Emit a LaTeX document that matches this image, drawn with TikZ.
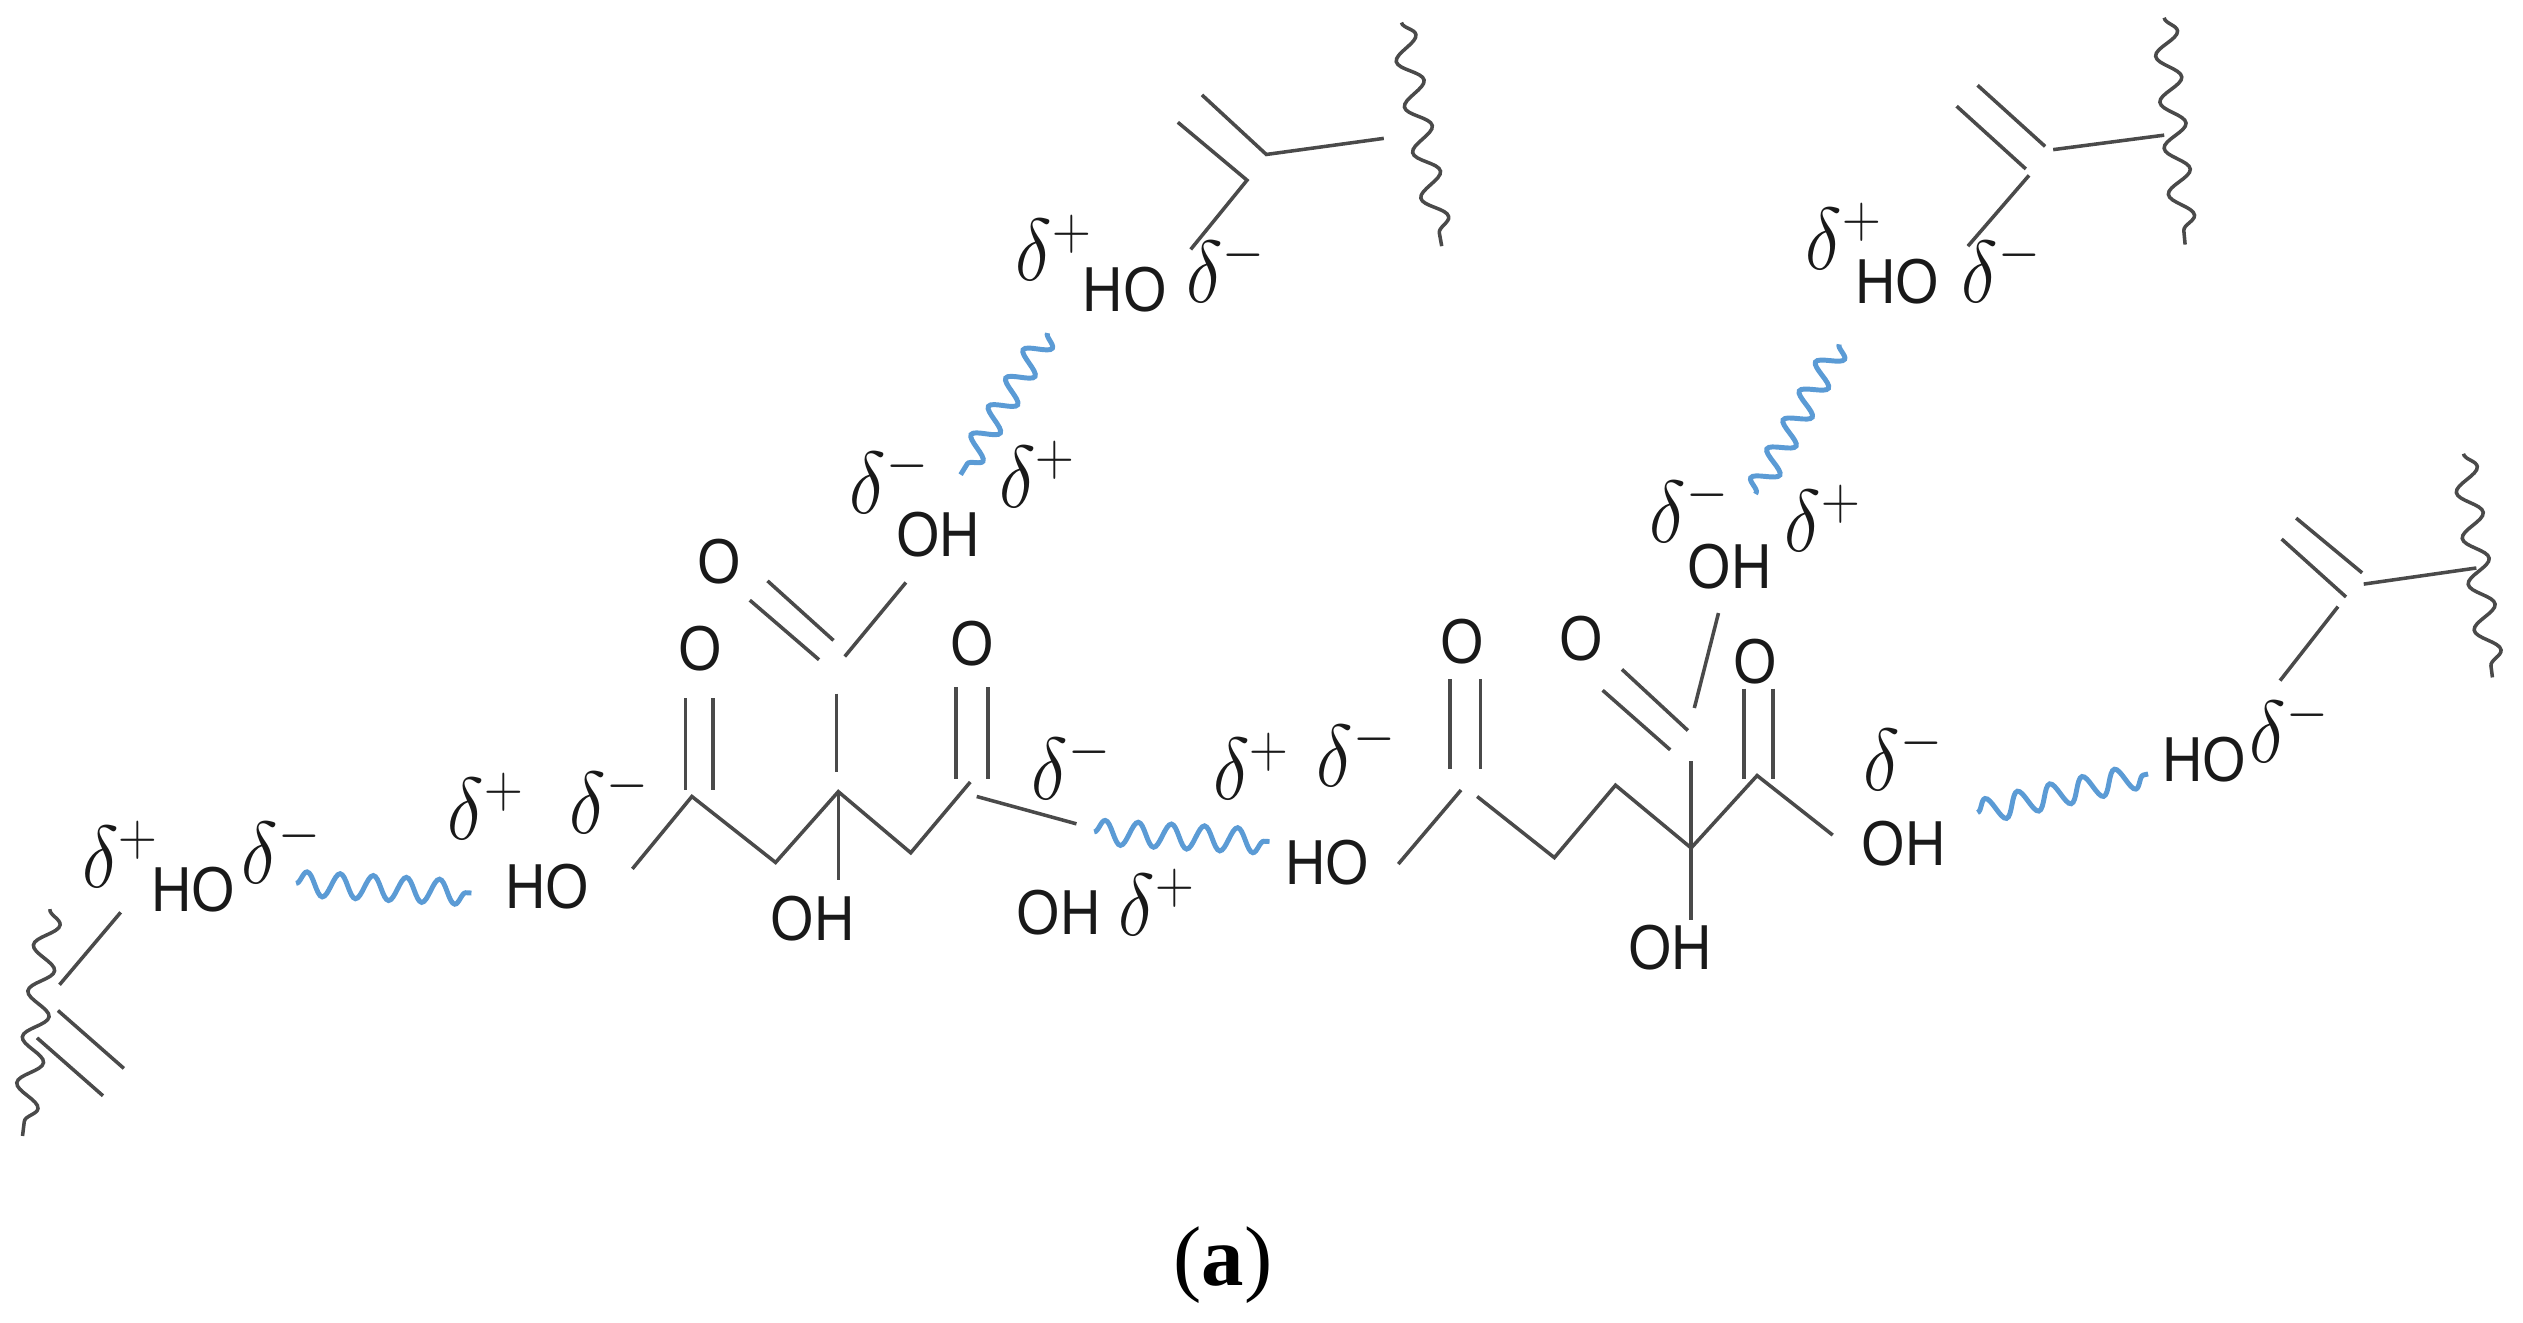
\documentclass[tikz,border=0pt]{standalone}
\usepackage{fontspec}
\setmainfont{Liberation Sans}
\newfontfamily\capfont{Liberation Serif}
\usetikzlibrary{decorations.pathmorphing}
\newcommand{\atomtxt}[1]{\scalebox{.88}[1]{#1}}
\newcommand{\dplus}{\scalebox{.88}[1]{$\delta^{+}$}}
\newcommand{\dminus}{\scalebox{.88}[1]{$\delta^{-}$}}
\definecolor{bondgray}{HTML}{4A4A4A}
\definecolor{hbondblue}{HTML}{5B9BD5}
\tikzset{
  atomlabel/.style={inner sep=0pt, text=black!90, font=\fontsize{18}{20}\selectfont},
  chargelabel/.style={inner sep=0pt, text=black!90, font=\fontsize{26}{28}\selectfont},
  bond/.style={color=bondgray, line width=1pt},
  chainend/.style={color=bondgray, line width=1pt, decorate,
    decoration={snake, segment length=0.46cm, amplitude=0.12cm}},
  hbond/.style={color=hbondblue, line width=1.4pt, decorate,
    decoration={snake, segment length=0.33cm, amplitude=0.12cm}}
}
\begin{document}
\begin{tikzpicture}[x=0.016cm, y=-0.016cm]
\useasboundingbox (0,0) rectangle (1568,822.2);
% lower left fragment
\coordinate (a1) at (31,565);
\coordinate (a2) at (14,706);
\coordinate (a3) at (75,567);
\coordinate (a4) at (37,612);
\coordinate (a5) at (36,628);
\coordinate (a6) at (77,664);
\coordinate (a7) at (23,645);
\coordinate (a8) at (64,681);
\draw[chainend] (a1) -- (a2);
\draw[bond] (a3) -- (a4);
\draw[bond] (a5) -- (a6);
\draw[bond] (a7) -- (a8);
\node[chargelabel] (dpA) at (75,531) {\dplus};
\node[atomlabel] (hoA) at (120,553) {\atomtxt{HO}};
\node[chargelabel] (dmA) at (175,528) {\dminus};
\coordinate (hA1) at (184,549);
\coordinate (hA2) at (293,555);
\draw[hbond] (hA1) -- (hA2);
% left citric acid
\node[chargelabel] (dpB) at (302,501) {\dplus};
\node[chargelabel] (dmB) at (379,497) {\dminus};
\node[atomlabel] (hoB) at (340,551) {\atomtxt{HO}};
\node[atomlabel] (oB1) at (435,403) {\atomtxt{O}};
\node[atomlabel] (oB2) at (604,400) {\atomtxt{O}};
\node[atomlabel] (oB3) at (447,349) {\atomtxt{O}};
\node[atomlabel] (ohB1) at (583,332) {\atomtxt{OH}};
\node[atomlabel] (ohB2) at (505,571) {\atomtxt{OH}};
\node[atomlabel] (ohB3) at (658,567) {\atomtxt{OH}};
\node[chargelabel] (dpC) at (719,561) {\dplus};
\node[chargelabel] (dmC) at (666,476) {\dminus};
\node[chargelabel] (dpD) at (778,476) {\dplus};
\coordinate (b1) at (393,540);
\coordinate (b2) at (430,495);
\coordinate (b3) at (482,536);
\coordinate (b4) at (521,492);
\coordinate (b5) at (566,530);
\coordinate (b6) at (603,486);
\coordinate (b7) at (607,495);
\coordinate (b8) at (669,512);
\coordinate (b9) at (521,547);
\coordinate (b10) at (520,431);
\coordinate (b11) at (520,480);
\coordinate (b12) at (426,434);
\coordinate (b13) at (426,491);
\coordinate (b14) at (443,434);
\coordinate (b15) at (443,491);
\coordinate (b16) at (594,427);
\coordinate (b17) at (594,484);
\coordinate (b18) at (614,427);
\coordinate (b19) at (614,484);
\coordinate (b20) at (477,361);
\coordinate (b21) at (518,398);
\coordinate (b22) at (466,373);
\coordinate (b23) at (509,410);
\coordinate (b24) at (563,362);
\coordinate (b25) at (525,408);
\draw[bond] (b1) -- (b2) -- (b3) -- (b4) -- (b5) -- (b6);
\draw[bond] (b7) -- (b8);
\draw[bond] (b4) -- (b9);
\draw[bond] (b10) -- (b11);
\draw[bond] (b12) -- (b13);
\draw[bond] (b14) -- (b15);
\draw[bond] (b16) -- (b17);
\draw[bond] (b18) -- (b19);
\draw[bond] (b20) -- (b21);
\draw[bond] (b22) -- (b23);
\draw[bond] (b24) -- (b25);
\coordinate (hB1) at (680,517);
\coordinate (hB2) at (789,523);
\draw[hbond] (hB1) -- (hB2);
% upper left fragment
\node[chargelabel] (dpE) at (655,154) {\dplus};
\node[atomlabel] (hoE) at (699,180) {\atomtxt{HO}};
\node[chargelabel] (dmE) at (762,167) {\dminus};
\node[chargelabel] (dmF) at (553,298) {\dminus};
\node[chargelabel] (dpF) at (645,295) {\dplus};
\coordinate (e1) at (871,14);
\coordinate (e2) at (896,153);
\coordinate (e3) at (747,59);
\coordinate (e4) at (787,96);
\coordinate (e5) at (732,76);
\coordinate (e6) at (775,112);
\coordinate (e7) at (860,86);
\coordinate (e8) at (740,155);
\draw[chainend] (e1) -- (e2);
\draw[bond] (e3) -- (e4) -- (e7);
\draw[bond] (e5) -- (e6) -- (e8);
\coordinate (hE1) at (651,207);
\coordinate (hE2) at (597,295);
\draw[hbond] (hE1) -- (hE2);
% upper right fragment
\node[chargelabel] (dpG) at (1146,147) {\dplus};
\node[atomlabel] (hoG) at (1179,175) {\atomtxt{HO}};
\node[chargelabel] (dmG) at (1244,167) {\dminus};
\node[chargelabel] (dmH) at (1050,316) {\dminus};
\node[chargelabel] (dpH) at (1133,322) {\dplus};
\coordinate (g1) at (1345,11);
\coordinate (g2) at (1358,152);
\coordinate (g3) at (1229,53);
\coordinate (g4) at (1271,91);
\coordinate (g5) at (1216,66);
\coordinate (g6) at (1259,105);
\coordinate (g7) at (1276,93);
\coordinate (g8) at (1345,84);
\coordinate (g9) at (1261,109);
\coordinate (g10) at (1223,153);
\draw[chainend] (g1) -- (g2);
\draw[bond] (g3) -- (g4);
\draw[bond] (g5) -- (g6);
\draw[bond] (g7) -- (g8);
\draw[bond] (g9) -- (g10);
\coordinate (hG1) at (1143,214);
\coordinate (hG2) at (1091,307);
\draw[hbond] (hG1) -- (hG2);
% right citric acid
\node[chargelabel] (dmJ) at (843,468) {\dminus};
\node[atomlabel] (hoJ) at (825,536) {\atomtxt{HO}};
\node[atomlabel] (oJ1) at (909,399) {\atomtxt{O}};
\node[atomlabel] (oJ2) at (983,397) {\atomtxt{O}};
\node[atomlabel] (oJ3) at (1091,411) {\atomtxt{O}};
\node[atomlabel] (ohJ1) at (1075,352) {\atomtxt{OH}};
\node[atomlabel] (ohJ2) at (1038,589) {\atomtxt{OH}};
\node[atomlabel] (ohJ3) at (1183,524) {\atomtxt{OH}};
\node[chargelabel] (dmK) at (1183,470) {\dminus};
\coordinate (j1) at (869,537);
\coordinate (j2) at (908,491);
\coordinate (j3) at (918,495);
\coordinate (j4) at (966,533);
\coordinate (j5) at (1004,488);
\coordinate (j6) at (1051,527);
\coordinate (j7) at (1092,482);
\coordinate (j8) at (1139,519);
\coordinate (j9) at (901,422);
\coordinate (j10) at (901,478);
\coordinate (j11) at (920,422);
\coordinate (j12) at (920,478);
\coordinate (j13) at (1084,428);
\coordinate (j14) at (1084,484);
\coordinate (j15) at (1102,428);
\coordinate (j16) at (1102,484);
\coordinate (j17) at (1051,473);
\coordinate (j18) at (1051,572);
\coordinate (j19) at (1008,416);
\coordinate (j20) at (1049,454);
\coordinate (j21) at (996,429);
\coordinate (j22) at (1038,466);
\coordinate (j23) at (1068,381);
\coordinate (j24) at (1053,440);
\draw[bond] (j1) -- (j2);
\draw[bond] (j3) -- (j4) -- (j5) -- (j6) -- (j7) -- (j8);
\draw[bond] (j9) -- (j10);
\draw[bond] (j11) -- (j12);
\draw[bond] (j13) -- (j14);
\draw[bond] (j15) -- (j16);
\draw[bond] (j17) -- (j18);
\draw[bond] (j19) -- (j20);
\draw[bond] (j21) -- (j22);
\draw[bond] (j23) -- (j24);
\coordinate (hJ1) at (1229,505);
\coordinate (hJ2) at (1335,481);
\draw[hbond] (hJ1) -- (hJ2);
% right fragment
\node[atomlabel] (hoL) at (1370,472) {\atomtxt{HO}};
\node[chargelabel] (dmL) at (1423,453) {\dminus};
\coordinate (l1) at (1531,282);
\coordinate (l2) at (1549,421);
\coordinate (l3) at (1427,322);
\coordinate (l4) at (1468,356);
\coordinate (l5) at (1418,335);
\coordinate (l6) at (1458,371);
\coordinate (l7) at (1469,363);
\coordinate (l8) at (1539,353);
\coordinate (l9) at (1453,377);
\coordinate (l10) at (1417,423);
\draw[chainend] (l1) -- (l2);
\draw[bond] (l3) -- (l4);
\draw[bond] (l5) -- (l6);
\draw[bond] (l7) -- (l8);
\draw[bond] (l9) -- (l10);
% caption
\node[inner sep=0pt, font=\fontsize{24}{26}\selectfont\capfont] (capa) at (760,786) {(\textbf{a})};
\end{tikzpicture}
\end{document}
